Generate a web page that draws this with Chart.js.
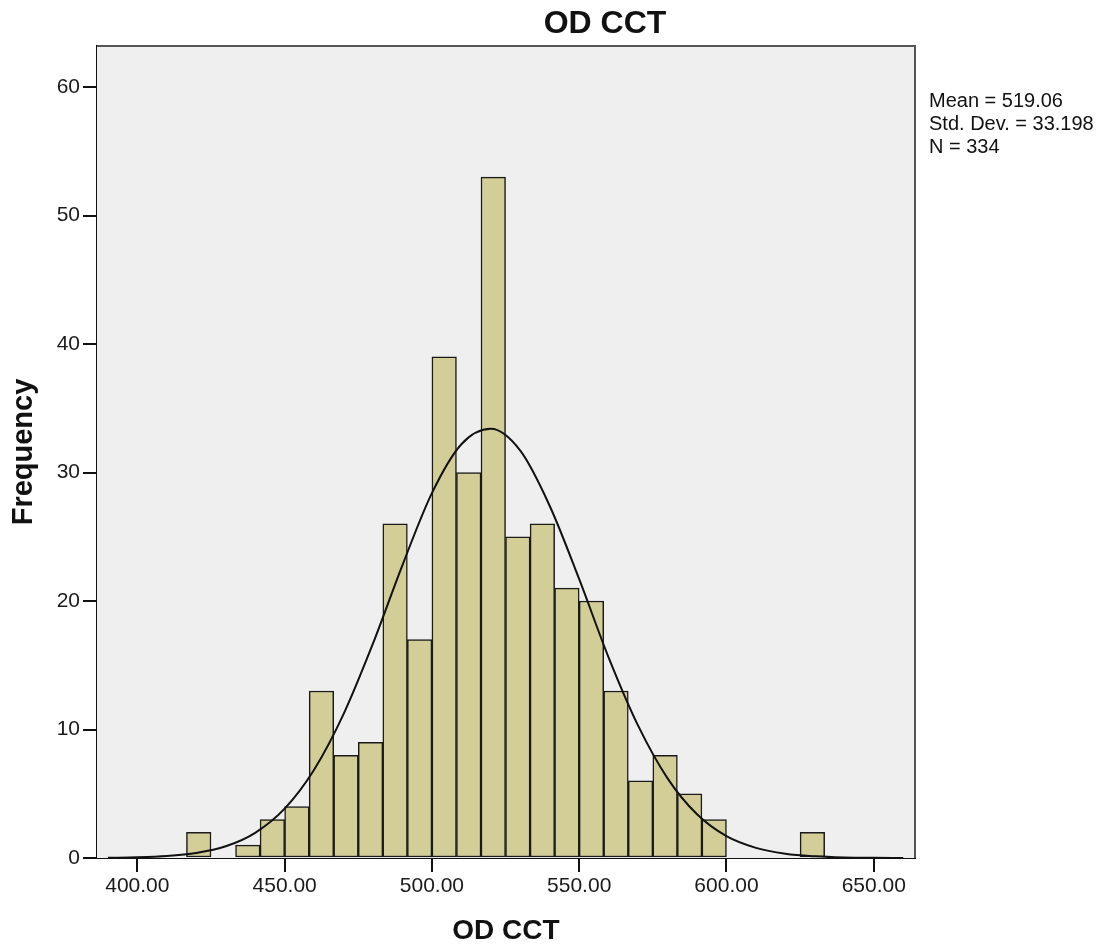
<!DOCTYPE html>
<html>
<head>
<meta charset="utf-8">
<script src="https://cdn.jsdelivr.net/npm/chart.js@4"></script>
<style>
  body { margin: 0; background: #fff; }
  #wrap { width: 1109px; height: 946px; }
</style>
</head>
<body>
<div id="wrap"><canvas id="cchart" width="1109" height="946"></canvas></div>
<script>
// Histogram bins (lower edge of first bin and bin width, in OD CCT units)
const binStart = 416.667;
const binWidth = 8.333;

// Frequency per bin
const counts = [2, 0, 1, 3, 4, 13, 8, 9, 26, 17, 39, 30, 53, 25, 26, 21, 20, 13, 6, 8, 5, 3, 0, 0, 0, 2];

// Normal curve at every 10 units
const curveX = [390, 400, 410, 420, 430, 440, 450, 460, 470, 480, 490, 500, 510, 520,
                530, 540, 550, 560, 570, 580, 590, 600, 610, 620, 630, 640, 650, 660];
const curveY = [0.02, 0.05, 0.15, 0.39, 0.91, 1.96, 3.84, 6.87, 11.2, 16.7, 22.8, 28.4, 32.2, 33.4,
                31.7, 27.4, 21.7, 15.6, 10.3, 6.2, 3.4, 1.7, 0.79, 0.33, 0.13, 0.04, 0.01, 0.0];

// Axis ticks
const xTicks = [400, 450, 500, 550, 600, 650];
const yTicks = [0, 10, 20, 30, 40, 50, 60];

// Stats box text
const statsLines = ["Mean = 519.06", "Std. Dev. = 33.198", "N = 334"];
const chartTitle = "OD CCT";

const FONT = "'Liberation Sans', Arial, sans-serif";

let barData = counts.map((c, i) => ({ x: binStart + binWidth * (i + 0.5), y: c }));
let curveData = curveX.map((x, i) => ({ x: x, y: curveY[i] }));

/*
    Plot background, frame and the text outside the axes
*/
const decorPlugin = {
    id: 'decor',
    beforeDatasetsDraw(chart) {
        const a = chart.chartArea;
        const ctx = chart.ctx;
        ctx.save();
        ctx.fillStyle = '#efefef';
        ctx.fillRect(a.left, a.top, a.right - a.left, a.bottom - a.top);
        ctx.restore();
    },
    afterDraw(chart) {
        const a = chart.chartArea;
        const ctx = chart.ctx;
        ctx.save();
        // top and right frame
        ctx.strokeStyle = '#555';
        ctx.lineWidth = 2;
        ctx.beginPath();
        ctx.moveTo(a.left, a.top);
        ctx.lineTo(a.right, a.top);
        ctx.lineTo(a.right, a.bottom);
        ctx.stroke();

        ctx.fillStyle = '#111';
        ctx.textAlign = 'center';
        ctx.textBaseline = 'alphabetic';
        ctx.font = "bold 32px " + FONT;
        ctx.fillText(chartTitle, 605, 33);

        ctx.textAlign = 'left';
        ctx.font = "20px " + FONT;
        statsLines.forEach((line, i) => {
            ctx.fillText(line, 929, 107 + i * 23);
        });
        ctx.restore();
    }
};

let ctx = document.getElementById('cchart').getContext('2d');
let _chart = new Chart(ctx, {
    type: 'bar',
    data: {
        datasets: [
            {
                type: 'line',
                label: 'Normal',
                data: curveData,
                borderColor: '#111',
                borderWidth: 2,
                pointRadius: 0,
                fill: false,
                cubicInterpolationMode: 'monotone',
                order: 0
            },
            {
                label: 'Frequency',
                data: barData,
                backgroundColor: '#d3ce98',
                borderColor: '#1a1a1a',
                borderWidth: 1.5,
                borderSkipped: false,
                barPercentage: 1,
                categoryPercentage: 1,
                order: 1
            }
        ]
    },
    options: {
        responsive: false,
        animation: false,
        layout: { padding: { top: 46, right: 194, left: 0, bottom: 0 } },
        plugins: {
            legend: { display: false },
            tooltip: { enabled: false }
        },
        scales: {
            x: {
                type: 'linear',
                min: 386.3,
                max: 664.0,
                offset: false,
                afterBuildTicks: (scale) => { scale.ticks = xTicks.map(v => ({ value: v })); },
                afterFit: (scale) => { scale.height = 88; },
                grid: { drawOnChartArea: false, offset: false, tickLength: 14, color: '#111', lineWidth: 2 },
                border: { color: '#111', width: 2 },
                ticks: {
                    color: '#1a1a1a',
                    padding: 2,
                    maxRotation: 0,
                    font: { family: FONT, size: 21 },
                    callback: (v) => Number(v).toFixed(2)
                },
                title: {
                    display: true,
                    text: 'OD CCT',
                    color: '#111',
                    font: { family: FONT, size: 28, weight: 'bold', lineHeight: 1 },
                    padding: { top: 0, bottom: 1 }
                }
            },
            y: {
                min: 0,
                max: 63.2,
                afterBuildTicks: (scale) => { scale.ticks = yTicks.map(v => ({ value: v })); },
                afterFit: (scale) => { scale.width = 97; },
                grid: { drawOnChartArea: false, tickLength: 14, color: '#111', lineWidth: 2 },
                border: { color: '#111', width: 2 },
                ticks: {
                    color: '#1a1a1a',
                    padding: 3,
                    font: { family: FONT, size: 21 }
                },
                title: {
                    display: true,
                    text: 'Frequency',
                    color: '#111',
                    font: { family: FONT, size: 29, weight: 'bold', lineHeight: 1 },
                    padding: { top: 9, bottom: 0 }
                }
            }
        }
    },
    plugins: [decorPlugin]
});
</script>
</body>
</html>
